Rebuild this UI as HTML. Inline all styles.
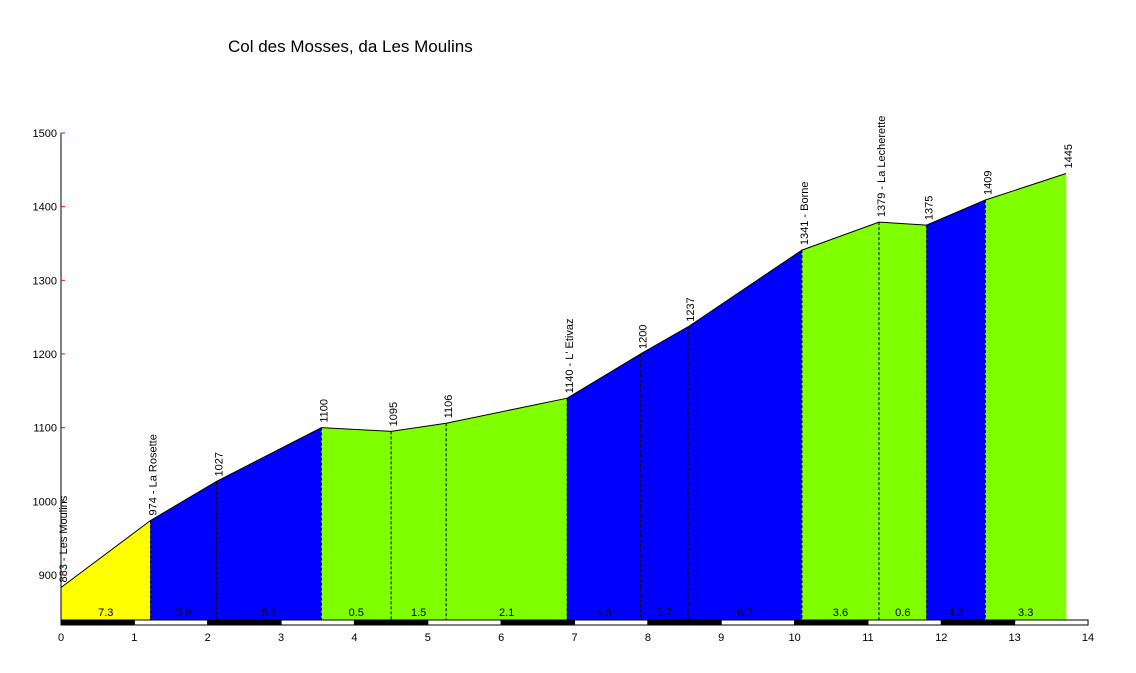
<!DOCTYPE html>
<html><head><meta charset="utf-8"><style>
body{margin:0;background:#fff;width:1136px;height:673px;overflow:hidden}
svg{font-family:"Liberation Sans",sans-serif;display:block}
</style></head><body>
<svg id="chart" width="1136" height="673">
<text x="228" y="52" font-size="17">Col des Mosses, da Les Moulins</text>
<g id="fills"></g><g id="labels"></g><g id="axes"></g>
</svg>
<script>
const distances=[0,1.22,2.12,3.55,4.5,5.25,6.9,7.9,8.55,10.1,11.15,11.8,12.6,13.7];
const elevations=[883,974,1027,1100,1095,1106,1140,1200,1237,1341,1379,1375,1409,1445];
const names=["883 - Les Moulins","974 - La Rosette","1027","1100","1095","1106","1140 - L' Etivaz","1200","1237","1341 - Borne","1379 - La Lecherette","1375","1409","1445"];
const grades=["7.3","5.9","5.2","0.5","1.5","2.1","6.3","5.7","6.7","3.6","0.6","4.2","3.3"];
const segColors=["#ffff00","#0000ff","#0000ff","#80ff00","#80ff00","#80ff00","#0000ff","#0000ff","#0000ff","#80ff00","#80ff00","#0000ff","#80ff00"];
const yTicks=[900,1000,1100,1200,1300,1400,1500];
const xTicks=[0,1,2,3,4,5,6,7,8,9,10,11,12,13,14];
const NS="http://www.w3.org/2000/svg";
const X=d=>61+d*73.36, Y=e=>575-(e-900)*0.7367, BASE=620;
function mk(t,a,p){const e=document.createElementNS(NS,t);for(const k in a)e.setAttribute(k,a[k]);p.appendChild(e);return e;}
const F=document.getElementById('fills'),L=document.getElementById('labels'),A=document.getElementById('axes');
for(let i=0;i<grades.length;i++){
 const x0=X(distances[i]),x1=X(distances[i+1]);
 const p=mk('polygon',{points:`${x0},${BASE} ${x0},${Y(elevations[i])} ${x1},${Y(elevations[i+1])} ${x1},${BASE}`,fill:segColors[i],stroke:segColors[i],'stroke-width':0.5},F);
 
 
 const t=mk('text',{x:(x0+x1)/2,y:616,'font-size':11,'text-anchor':'middle'},L);t.textContent=grades[i];
 
 
}
const pts=distances.map((d,i)=>X(d)+','+Y(elevations[i])).join(' ');
const pl=mk('polyline',{points:pts,fill:'none',stroke:'#000','stroke-width':1},F);


for(let i=0;i<distances.length;i++){
 const x=X(distances[i]),y=Y(elevations[i]);
 if(i>0&&i<distances.length-1){const l=mk('line',{x1:x,y1:y,x2:x,y2:BASE,stroke:'#000','stroke-dasharray':'3,2'},L);
 
 }
 const t=mk('text',{transform:`translate(${x+6},${y-5}) rotate(-90)`,'font-size':11},L);t.textContent=names[i];
 
 
}
mk('line',{x1:61,y1:133,x2:61,y2:625,stroke:'#000'},A);
yTicks.forEach(v=>{const y=Y(v);mk('line',{x1:61,y1:y,x2:65,y2:y,stroke:'#f00'},A);
 const t=mk('text',{x:57,y:y+4,'font-size':11,'text-anchor':'end'},A);t.textContent=v;
 
 });
xTicks.forEach(k=>{
 if(k<14){const r=mk('rect',{x:X(k),y:620,width:73.36,height:5,fill:k%2?'#fff':'#000',stroke:'#000','stroke-width':1},A);
 
 }
 const t=mk('text',{x:X(k),y:641,'font-size':11,'text-anchor':'middle'},A);t.textContent=k;
 
 });
</script>
</body></html>
